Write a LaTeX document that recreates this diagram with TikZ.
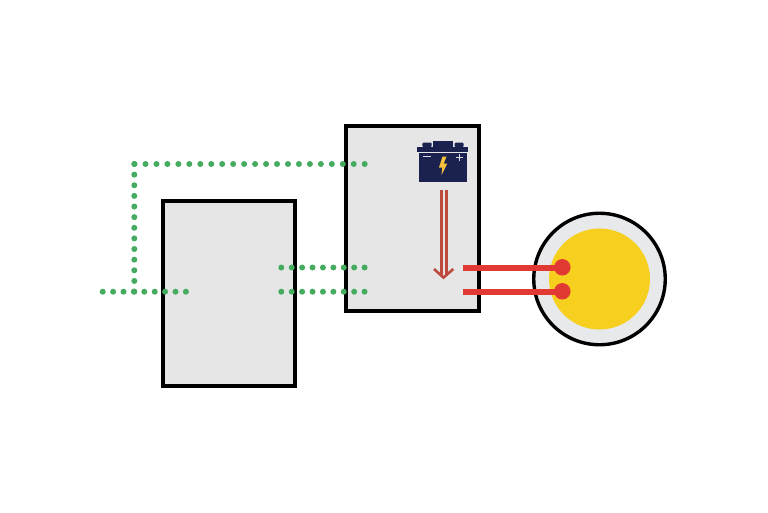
\documentclass[tikz,border=0pt]{standalone}
\definecolor{boxfill}{HTML}{E6E6E6}
\definecolor{lampfill}{HTML}{E7E9EB}
\definecolor{lampyellow}{HTML}{F6CF1F}
\definecolor{wirered}{HTML}{E03A32}
\definecolor{arrowred}{HTML}{BC4A3E}
\definecolor{signalgreen}{HTML}{45AB5F}
\definecolor{batnavy}{HTML}{1B2250}
\definecolor{batbolt}{HTML}{F5C33B}
\tikzset{
  panel/.style={draw=black,fill=boxfill,line width=4pt,minimum width=#1,inner sep=0pt,outer sep=0pt,rectangle},
  signal/.style={draw=signalgreen,line width=6pt,line cap=round,dash pattern=on 0pt off #1},
  wire/.style={draw=wirered,line width=6pt},
  terminal/.style={circle,fill=wirered,minimum size=16.5pt,inner sep=0pt,outer sep=0pt},
}
\begin{document}
\begin{tikzpicture}[x=1pt,y=-1pt]
\useasboundingbox (0,0) rectangle (768,512);
\node[panel=132pt,minimum height=185pt] (left) at (229,293) {};
\node[panel=132.5pt,minimum height=184.5pt] (right) at (412.6,218.3) {};
\node[circle,draw=black,fill=lampfill,line width=3.4pt,minimum size=131.5pt,inner sep=0pt,outer sep=0pt] (lamp) at (599.5,279) {};
\node[circle,fill=lampyellow,minimum size=101pt,inner sep=0pt,outer sep=0pt] (bulb) at (599.5,279) {};
% signal lines
\coordinate (a) at (364.7,164);
\coordinate (b) at (134.3,164);
\coordinate (c) at (134.3,291.7);
\coordinate (d) at (102.7,291.7);
\coordinate (e) at (186,291.7);
\coordinate (f) at (281.3,267.5);
\coordinate (g) at (364.7,267.5);
\coordinate (h) at (281.3,291.7);
\coordinate (i) at (364.7,291.7);
\draw[signal=10.96pt] (a) -- (b);
\draw[signal=10.63pt] (b) -- (c);
\draw[signal=10.40pt] (d) -- (e);
\draw[signal=10.41pt] (f) -- (g);
\draw[signal=10.41pt] (h) -- (i);
% terminals and wires
\node[terminal] (t1) at (562.3,267.3) {};
\node[terminal] (t2) at (562.3,291.3) {};
\coordinate (w1) at (463.3,267.7);
\coordinate (w2) at (463.3,292);
\draw[wire] (w1) -- (t1.center |- w1);
\draw[wire] (w2) -- (t2.center |- w2);
% battery
\fill[batnavy] (419,153.3) rectangle (466.8,182.3);
\fill[batnavy] (417.3,146.8) rectangle (468.4,151.8);
\fill[batnavy] (433,140.7) rectangle (453,147);
\fill[batnavy,rounded corners=1pt] (422.3,142.7) rectangle (431.7,147);
\fill[batnavy,rounded corners=1pt] (454.6,142.7) rectangle (463.6,147);
\fill[batbolt] (442.5,156.5) -- (439,167.5) -- (442.3,167.5) -- (441.5,175) -- (447.3,163.5) -- (443.8,163.5) -- (446.5,156.5) -- cycle;
\draw[white!85!batnavy,line width=.9pt] (423.3,156.7) -- (430.7,156.7);
\draw[white!85!batnavy,line width=.9pt] (456,157.7) -- (462.7,157.7) (459.3,154.3) -- (459.3,161);
% arrow
\coordinate (q) at (443.5,277.6);
\draw[arrowred,line width=3pt] (441,190) -- (441,275);
\draw[arrowred,line width=3pt] (446.7,190) -- (446.7,275);
\draw[arrowred,line width=2.6pt] (434,269) -- (q) -- (453.3,269);
\end{tikzpicture}
\end{document}
